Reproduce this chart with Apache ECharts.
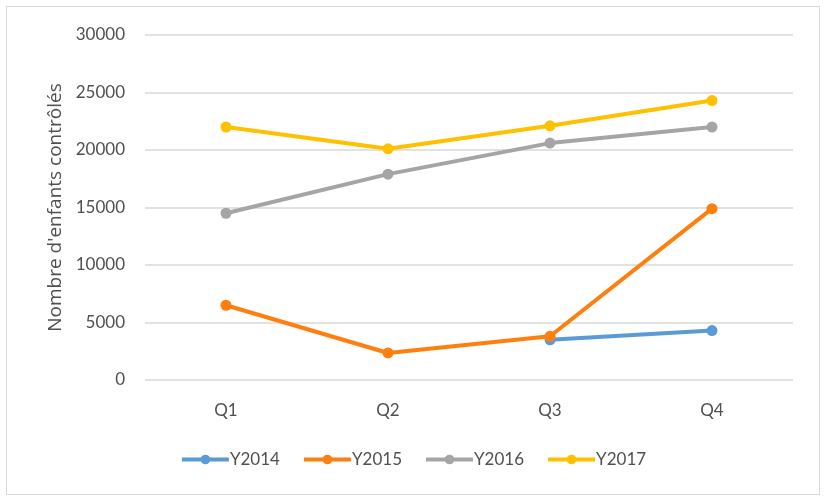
<!DOCTYPE html>
<html><head><meta charset="utf-8">
<script src="https://cdn.jsdelivr.net/npm/echarts@6/dist/echarts.min.js"></script>
<style>html,body{margin:0;padding:0;background:#fff}#c{width:826px;height:501px}
#frame{position:absolute;left:6px;top:6px;width:812px;height:487px;border:1px solid #d9d9d9;pointer-events:none}</style>
</head><body><div id="c"></div><div id="frame"></div>
<script>
const categories = ['Q1','Q2','Q3','Q4'];
const seriesNames = ['Y2014','Y2015','Y2016','Y2017'];
const y2014 = [null, null, 3500, 4300];
const y2015 = [6500, 2350, 3800, 14900];
const y2016 = [14500, 17900, 20600, 22000];
const y2017 = [22000, 20100, 22100, 24300];
const yTicks = [0, 5000, 10000, 15000, 20000, 25000, 30000];
const colors = ['#5b9bd5','#ff7f0e','#a5a5a5','#ffc000'];
const values = [y2014, y2015, y2016, y2017];
const chart = echarts.init(document.getElementById('c'));
const font = 'Lato, Open Sans, sans-serif';
const txt = '#505050';
chart.setOption({
  animation:false,
  color: colors,
  grid:{left:145,right:33,top:35,bottom:121,containLabel:false},
  legend:{bottom:28,left:'center',itemWidth:47,itemHeight:12,itemGap:22,
    textStyle:{color:txt,fontSize:17,fontFamily:font,padding:[0,0,0,-4]},
    lineStyle:{width:4},
    data: seriesNames},
  xAxis:{type:'category',data:categories,boundaryGap:true,
    axisLine:{show:false},axisTick:{show:false},
    axisLabel:{color:txt,fontSize:17,fontFamily:font,margin:22}},
  yAxis:{type:'value',min:yTicks[0],max:yTicks[yTicks.length-1],interval:5000,
    name:"Nombre d'enfants contrôlés",nameLocation:'middle',nameGap:72,
    nameTextStyle:{color:txt,fontSize:19,fontFamily:'Open Sans, sans-serif'},
    axisLine:{show:false},axisTick:{show:false},
    axisLabel:{color:txt,fontSize:17,fontFamily:font,margin:20,formatter:v=>String(v)},
    splitLine:{lineStyle:{color:'#d9d9d9',width:1.5}}},
  series: seriesNames.map((n,i)=>({name:n,type:'line',data:values[i],
    symbol:'circle',symbolSize:11,connectNulls:false,
    lineStyle:{width:4,color:colors[i]},itemStyle:{color:colors[i]}}))
});
</script></body></html>
